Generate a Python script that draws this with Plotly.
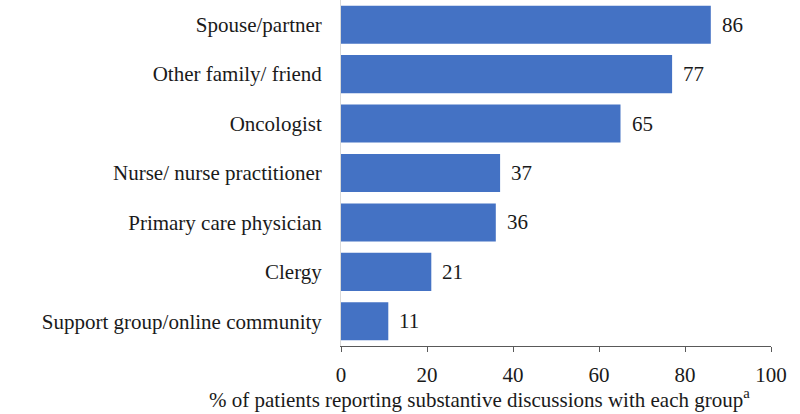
import plotly.graph_objects as go

categories = ["Spouse/partner", "Other family/ friend", "Oncologist",
              "Nurse/ nurse practitioner", "Primary care physician",
              "Clergy", "Support group/online community"]
values = [86, 77, 65, 37, 36, 21, 11]
tick_vals = [0, 20, 40, 60, 80, 100]
x_title = "% of patients reporting substantive discussions with each group<sup>a</sup>"

FONT = "Liberation Serif"
TXT = "#1a1a1a"
FS = 21

L, R, T, B = 341, 29, 0, 68
W, H = 800, 414
plot_w, plot_h = W - L - R, H - T - B

fig = go.Figure(go.Bar(
    y=categories, x=values, orientation="h",
    marker=dict(color="#4472C4", line=dict(width=0)),
    hoverinfo="skip",
))

for c, v in zip(categories, values):
    fig.add_annotation(x=v, y=c, xref="x", yref="y", text=str(v),
                       showarrow=False, xanchor="left", xshift=9,
                       font=dict(family=FONT, size=FS, color=TXT))

fig.add_annotation(x=(479 - L) / plot_w, y=-(414 - (H - B)) / plot_h,
                   xref="paper", yref="paper", text=x_title,
                   showarrow=False, xanchor="center", yanchor="bottom",
                   font=dict(family=FONT, size=FS, color=TXT))

fig.update_layout(
    width=W, height=H,
    margin=dict(l=L, r=R, t=T, b=B),
    plot_bgcolor="white", paper_bgcolor="white",
    bargap=0.23,
    font=dict(family=FONT, size=FS, color=TXT),
    showlegend=False,
)
fig.update_xaxes(
    range=[0, 100], tickvals=tick_vals, showgrid=False, zeroline=False,
    showline=True, linecolor="#595959", linewidth=1,
    ticks="outside", ticklen=5, tickcolor="#595959",
    ticklabelstandoff=5,
    tickfont=dict(family=FONT, size=FS, color=TXT),
    automargin=False,
)
fig.update_yaxes(
    autorange="reversed", showgrid=False, zeroline=False,
    showline=True, linecolor="#d9d9d9", linewidth=1,
    ticks="", ticklabelstandoff=14,
    tickfont=dict(family=FONT, size=FS, color=TXT),
    automargin=False,
)

fig.write_html("out.html", config={"displayModeBar": False},
               post_script="document.body.style.margin='0';document.body.style.overflow='hidden';")
